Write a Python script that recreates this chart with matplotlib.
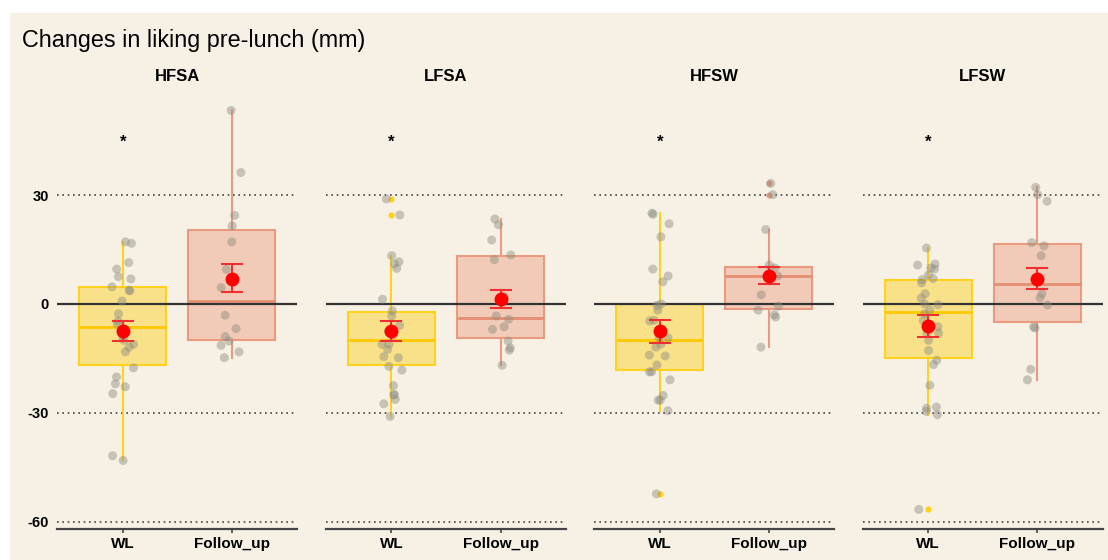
import numpy as np
import matplotlib.pyplot as plt
from matplotlib.patches import Rectangle

plt.rcParams['font.family'] = ['Liberation Sans', 'DejaVu Sans']
plt.rcParams['axes.unicode_minus'] = False

# Панелі та групи
panels = ["HFSA", "LFSA", "HFSW", "LFSW"]
groups = ["WL", "Follow_up"]

# Окремі спостереження (мм)
hfsa_wl = [17.1, 16.7, 11.4, 9.6, 7.5, 6.9, 4.7, 3.6, 3.8, 0.8, -2.7, -4.7, -5.6, -7.2,
           -9.3, -10.0, -11.1, -11.9, -13.2, -17.6, -20.1, -22.0, -22.8, -24.7, -41.8, -43.1]
hfsa_fu = [53.3, 36.2, 24.4, 21.5, 17.1, 9.5, 4.5, -3.1, -6.8, -9.0, -10.2, -11.4, -13.2, -14.8]
lfsa_wl = [28.9, 24.5, 13.3, 11.6, 11.0, 9.8, 1.3, -1.9, -3.3, -5.9, -7.5, -8.6, -11.1,
           -11.1, -12.5, -14.5, -14.8, -17.2, -18.2, -22.5, -25.0, -25.0, -26.3, -27.5, -31.0]
lfsa_fu = [23.4, 21.8, 17.6, 13.5, 12.2, 2.0, -3.3, -4.2, -6.3, -7.0, -10.2, -12.1, -12.7, -16.9]
hfsw_wl = [25.0, 24.7, 22.1, 18.5, 9.6, 7.7, 6.1, 0.0, -0.4, -1.7, -4.5, -4.7, -9.3, -9.3,
           -11.1, -11.9, -14.3, -14.1, -16.8, -18.7, -18.7, -20.9, -25.2, -26.5, -26.5, -29.4, -52.3]
hfsw_fu = [33.2, 30.1, 20.5, 10.7, 9.9, 7.7, 2.5, -0.6, -1.7, -3.0, -3.6, -11.9]
lfsw_wl = [15.4, 11.0, 10.7, 9.9, 9.6, 8.0, 7.0, 6.7, 5.8, 2.8, 1.6, 0.0, -0.2, -1.7, -2.7,
           -4.6, -6.3, -8.0, -8.0, -10.0, -12.8, -15.5, -16.7, -22.4, -28.7, -28.4, -29.6, -30.5, -56.6]
lfsw_fu = [32.1, 30.1, 28.3, 16.9, 16.0, 13.3, 2.8, 1.7, -0.3, -6.3, -6.6, -18.0, -20.9]
points = [[hfsa_wl, hfsa_fu], [lfsa_wl, lfsa_fu], [hfsw_wl, hfsw_fu], [lfsw_wl, lfsw_fu]]

# Статистика боксів [WL, Follow_up] для кожної панелі
box_q1 = [[-16.7, -9.8], [-16.7, -9.5], [-18.3, -1.5], [-14.9, -4.9]]
box_med = [[-6.4, 0.8], [-9.9, -3.8], [-9.9, 7.6], [-2.3, 5.6]]
box_q3 = [[4.6, 20.3], [-2.3, 13.2], [0.0, 10.3], [6.7, 16.6]]
box_lo = [[-43.1, -14.8], [-31.0, -16.9], [-29.4, -11.9], [-30.5, -20.9]]
box_hi = [[17.1, 53.3], [13.3, 23.4], [25.0, 20.5], [15.4, 32.1]]

# Середнє та межі похибки
mean_val = [[-7.4, 7.0], [-7.5, 1.3], [-7.5, 7.8], [-6.2, 6.9]]
mean_lo = [[-10.2, 3.2], [-10.3, -1.2], [-10.7, 5.5], [-9.2, 4.0]]
mean_hi = [[-4.6, 10.9], [-4.8, 3.9], [-4.4, 10.1], [-3.1, 9.9]]

# Позначка значущості (*) над WL
star_y = 44.6

fill_cols = ['#F9E189', '#F1CBB7']
edge_cols = ['#FFD21F', '#EA9A80']
med_cols = ['#FFC800', '#E58E72']

fig = plt.figure(figsize=(11.08, 5.6), dpi=100)
fig.patches.append(Rectangle((9.5 / 1108, 0), 1, 1 - 12.7 / 560, transform=fig.transFigure,
                             facecolor='#F6F1E4', edgecolor='none', zorder=-10))

rng = np.random.default_rng(7)
lefts = [57.3, 326.0, 594.3, 862.7]
for i, name in enumerate(panels):
    ax = fig.add_axes([lefts[i] / 1108, 31.3 / 560, 240 / 1108, 429.9 / 560])
    ax.set_facecolor('none')
    for g in range(2):
        vals = np.array(points[i][g])
        lo, hi = box_lo[i][g], box_hi[i][g]
        stats = [dict(q1=box_q1[i][g], med=box_med[i][g], q3=box_q3[i][g],
                      whislo=lo, whishi=hi, fliers=vals[(vals < lo) | (vals > hi)])]
        ax.bxp(stats, positions=[g], widths=0.8, patch_artist=True, showcaps=False,
               boxprops=dict(facecolor=fill_cols[g], edgecolor=edge_cols[g], linewidth=1.5),
               medianprops=dict(color=med_cols[g], linewidth=2),
               whiskerprops=dict(color=edge_cols[g], linewidth=1.5),
               flierprops=dict(marker='o', markersize=4.5, markerfacecolor=edge_cols[g],
                               markeredgecolor='none'))
        jit = rng.uniform(-0.1, 0.1, len(vals))
        ax.scatter(g + jit, vals, s=42, color='#8C8C80', alpha=0.45, edgecolors='none', zorder=4)
        m = mean_val[i][g]
        ax.errorbar([g], [m], yerr=[[m - mean_lo[i][g]], [mean_hi[i][g] - m]], fmt='o',
                    color='red', markersize=9, ecolor='#F03030', elinewidth=1.5, capsize=8,
                    capthick=1.5, zorder=5)
    ax.axhline(0, color='#333333', lw=1.6, zorder=3)
    ax.text(0, star_y, '*', ha='center', va='center', fontsize=12, fontweight='bold')
    ax.set_xlim(-0.6, 1.6)
    ax.set_ylim(-61.9, 56.5)
    ax.set_yticks([-60, -30, 0, 30])
    ax.yaxis.grid(True, linestyle=(0, (1, 2.2)), color='#444444', lw=1.2)
    ax.set_axisbelow(True)
    ax.set_xticks([0, 1])
    ax.set_xticklabels(groups, fontsize=11, fontweight='bold')
    ax.tick_params(axis='x', length=3, width=1.2, color='#444444', pad=3)
    ax.tick_params(axis='y', length=0, pad=6, labelsize=10.5)
    if i == 0:
        for lab in ax.get_yticklabels():
            lab.set_fontweight('bold')
    else:
        ax.set_yticklabels([])
    for s in ['left', 'right', 'top']:
        ax.spines[s].set_visible(False)
    ax.spines['bottom'].set_color('#444444')
    ax.spines['bottom'].set_linewidth(1.6)
    ax.set_title(name, fontsize=12, fontweight='bold', pad=13)

fig.text(22 / 1108, 1 - 47 / 560, "Changes in liking pre-lunch (mm)", fontsize=16.8, va='baseline')

fig.savefig('out.png', dpi=100)
